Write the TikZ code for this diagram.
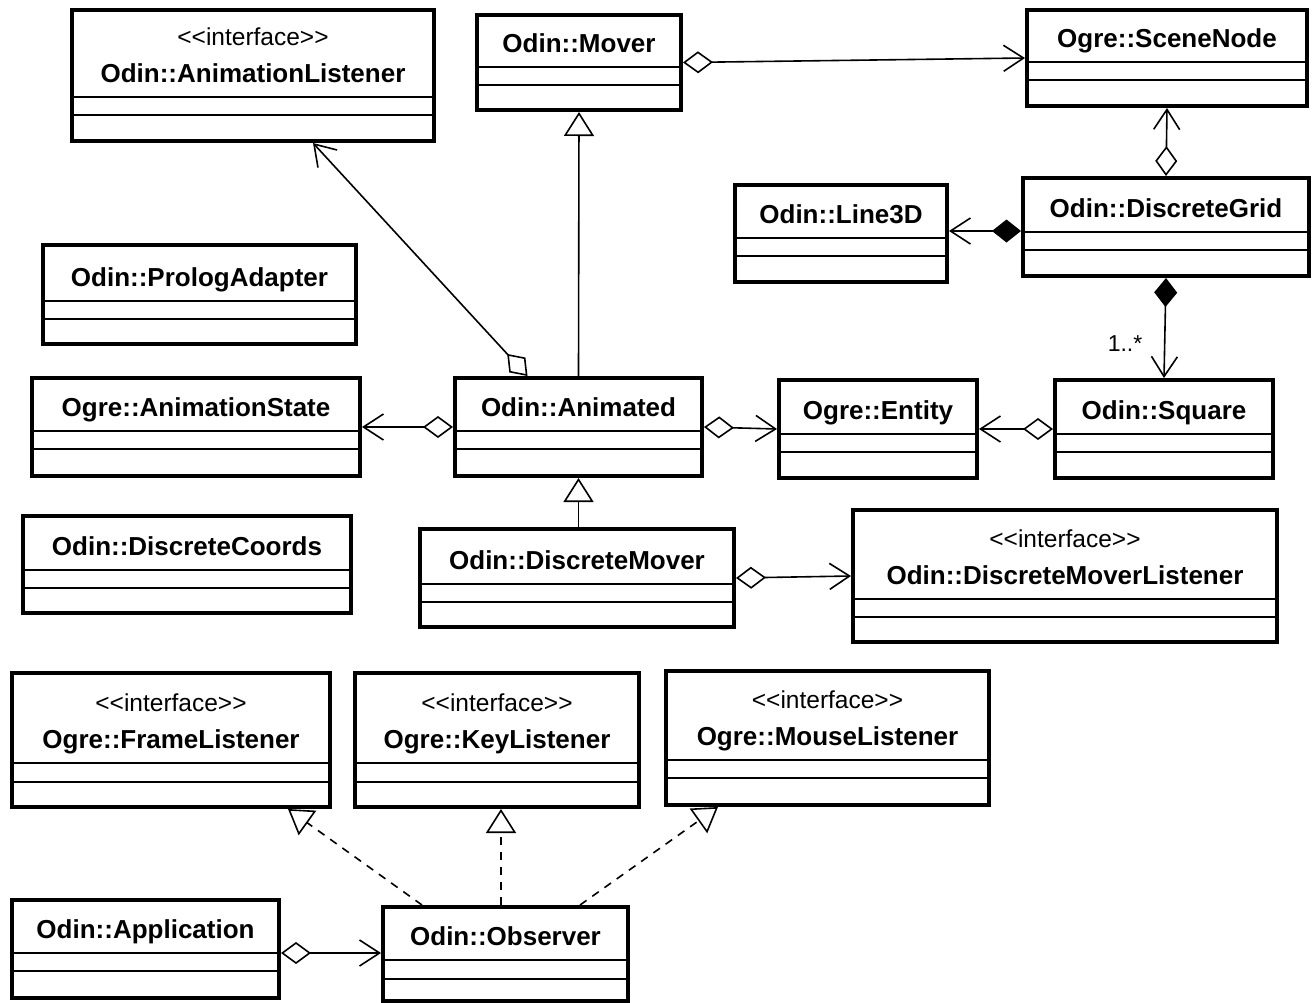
\documentclass[tikz,border=0pt]{standalone}
\usepackage{fontspec}
\setmainfont{Liberation Sans}
\usetikzlibrary{arrows.meta}
\newcommand{\umlclass}[8]{%
  \node[classbox, minimum width={(#4-#2)*1pt}, minimum height={(#5-#3)*1pt}] (#1) at ({(#2+#4)/2},{(#3+#5)/2}) {};
  \draw[divider] (#2,#6) -- (#4,#6);
  \draw[divider] (#2,#7) -- (#4,#7);
  \node[cname] (#1-t) at ({(#2+#4)/2},{#6-14.5}) {#8};
}
\newcommand{\umliface}[8]{%
  \umlclass{#1}{#2}{#3}{#4}{#5}{#6}{#7}{#8}
  \node[stereo] (#1-s) at ({(#2+#4)/2},{#6-52}) {<\kern0pt<interface>\kern0pt>};
}
\begin{document}
\begin{tikzpicture}[x=1pt,y=-1pt,
  classbox/.style={draw, line width=4pt, inner sep=0pt},
  divider/.style={line width=1.6pt},
  cname/.style={font=\fontsize{26}{30}\selectfont\bfseries, anchor=base, inner sep=0pt},
  stereo/.style={font=\fontsize{24.5}{28}\selectfont, anchor=base, inner sep=0pt},
  lbl/.style={font=\fontsize{23}{27}\selectfont, inner sep=0pt},
  conn/.style={line width=1.6pt},
  agg/.style={conn, {Diamond[open,length=30pt,width=22pt]}-{Straight Barb[length=20pt,width=26pt]}},
  comp/.style={conn, {Diamond[length=29pt,width=23pt]}-{Straight Barb[length=20pt,width=26pt]}},
  inh/.style={conn, -{Triangle[open,length=24pt,width=30pt]}},
  real/.style={inh, dash pattern=on 8pt off 7pt},
]
\fill[white] (0,0) rectangle (1312,1002);
\useasboundingbox (0,0) rectangle (1312,1002);

\umliface{alistener}{72}{10}{434}{141}{97}{115}{Odin::AnimationListener}
\umlclass{mover}{477}{15}{681}{110}{67}{85}{Odin::Mover}
\umlclass{scenenode}{1027}{10}{1307}{106}{62}{80}{Ogre::SceneNode}
\umlclass{dgrid}{1023}{178}{1309}{276}{232}{250}{Odin::DiscreteGrid}
\umlclass{line3d}{735}{185}{947}{282}{238}{256}{Odin::Line3D}
\umlclass{prolog}{43}{245}{356}{344}{301}{319}{Odin::PrologAdapter}
\umlclass{astate}{32}{378}{360}{476}{431}{449}{Ogre::AnimationState}
\umlclass{animated}{455}{378}{702}{476}{431}{449}{Odin::Animated}
\umlclass{entity}{779}{380}{977}{478}{434}{452}{Ogre::Entity}
\umlclass{square}{1055}{380}{1273}{478}{434}{452}{Odin::Square}
\umlclass{dcoords}{23}{516}{351}{613}{570}{588}{Odin::DiscreteCoords}
\umlclass{dmover}{420}{529}{734}{627}{584}{602}{Odin::DiscreteMover}
\umliface{dml}{853}{510}{1277}{642}{599}{617}{Odin::DiscreteMoverListener}
\umliface{fl}{12}{673}{330}{807}{763}{782}{Ogre::FrameListener}
\umliface{kl}{355}{673}{639}{807}{763}{782}{Ogre::KeyListener}
\umliface{ml}{666}{671}{989}{805}{760}{778}{Ogre::MouseListener}
\umlclass{app}{12}{900}{279}{998}{953}{971}{Odin::Application}
\umlclass{observer}{383}{907}{628}{1001}{960}{979}{Odin::Observer}

\draw[agg] (mover.east) -- (scenenode.west);
\draw[agg] (dgrid.north) -- (scenenode.south);
\draw[comp] ([yshift=-4pt]dgrid.west) -- ([yshift=2.5pt]line3d.east);
\draw[comp] (dgrid.south) -- (square.north);
\node[lbl] (mult) at (1125,344) {1..*};
\draw[agg] (square.west) -- (entity.east);
\draw[agg] (animated.east) -- (entity.west);
\draw[agg] (animated.west) -- (astate.east);
\draw[agg] ([xshift=-51pt]animated.north) -- ([xshift=60pt]alistener.south);
\draw[inh] (animated.north) -- (mover.south);
\draw[inh] ([xshift=1.5pt]dmover.north) -- (animated.south);
\draw[agg] (dmover.east) -- (dml.west);
\draw[agg] ([yshift=-4pt]app.east) -- ([yshift=1pt]observer.west);
\draw[real] ([xshift=-83.5pt]observer.north) -- ([xshift=117pt]fl.south);
\draw[real] ([xshift=-4.5pt]observer.north) -- ([xshift=4pt]kl.south);
\draw[real] ([xshift=74.5pt]observer.north) -- ([xshift=-109.5pt]ml.south);
\end{tikzpicture}
\end{document}
